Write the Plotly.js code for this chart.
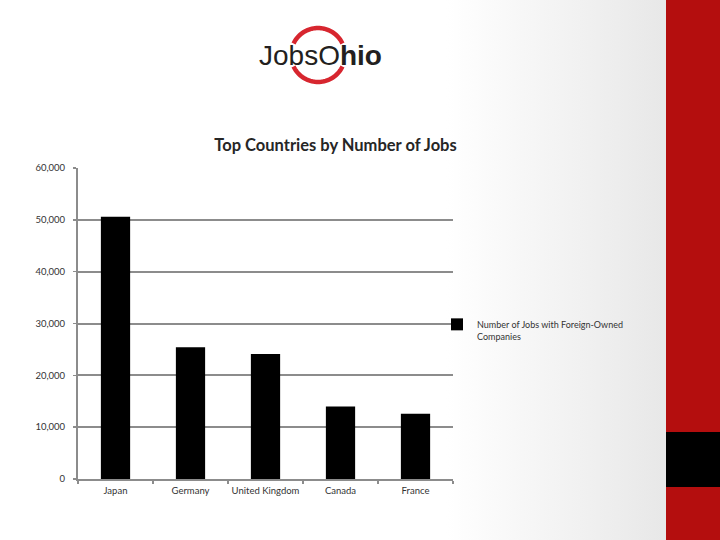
<!DOCTYPE html>
<html>
<head>
<meta charset="utf-8">
<script src="https://cdn.plot.ly/plotly-3.0.1.min.js"></script>
<style>
  html, body { margin:0; padding:0; width:720px; height:540px; overflow:hidden;
    background: linear-gradient(to right, #ffffff 0%, #ffffff 62%, #f3f3f3 78%, #e8e8e8 92%); }
  #chart { width:720px; height:540px; }
</style>
</head>
<body>
<div id="chart"></div>
<script>
// ---- data ----
const countries = ["Japan", "Germany", "United Kingdom", "Canada", "France"];
const jobs = [50600, 25400, 24100, 14000, 12600];
const seriesName = "Number of Jobs with Foreign-Owned<br>Companies";
const yTickVals = [0, 10000, 20000, 30000, 40000, 50000, 60000];
const yTickText = ["0", "10,000", "20,000", "30,000", "40,000", "50,000", "60,000"];
const chartTitle = "Top Countries by Number of Jobs";

// ---- layout helpers (pixel -> paper) ----
const W = 720, H = 540, ML = 78, MR = 267, MT = 168, MB = 61;
const PW = W - ML - MR, PH = H - MT - MB;
const px = x => (x - ML) / PW;
const py = y => (H - MB - y) / PH;

// logo ring arcs (decoration)
function arc(a0, a1, r) {
  let d = "";
  const n = 40;
  for (let i = 0; i <= n; i++) {
    const a = (a0 + (a1 - a0) * i / n) * Math.PI / 180;
    const x = (r * Math.cos(a)).toFixed(2), y = (r * Math.sin(a)).toFixed(2);
    d += (i === 0 ? "M" : "L") + x + "," + y;
  }
  return d;
}
const ringR = 27;
const ringShape = path => ({
  type: "path", xref: "paper", yref: "paper",
  xsizemode: "pixel", ysizemode: "pixel",
  xanchor: px(318), yanchor: py(55),
  path: path, line: { color: "#d7262f", width: 4.5 }
});

const trace = {
  type: "bar",
  x: countries,
  y: jobs,
  name: seriesName,
  marker: { color: "#000000", line: { color: "#000000", width: 0 } },
  showlegend: true
};

const layout = {
  width: W, height: H,
  margin: { l: ML, r: MR, t: MT, b: MB, pad: 0 },
  paper_bgcolor: "rgba(0,0,0,0)",
  plot_bgcolor: "rgba(0,0,0,0)",
  font: { family: "Lato, 'Open Sans', sans-serif", color: "#333333" },
  title: {
    text: chartTitle,
    font: { family: "Lato, 'Open Sans', sans-serif", size: 16.5, color: "#262626", weight: "bold" },
    x: 335.5 / W, xanchor: "center",
    y: 1 - 145 / H, yanchor: "middle"
  },
  bargap: 0.61,
  xaxis: {
    type: "category",
    showgrid: false,
    showline: true, linecolor: "#8c8c8c", linewidth: 2,
    ticks: "outside", tickson: "boundaries", ticklen: 3, tickcolor: "#8c8c8c", tickwidth: 1.5,
    tickfont: { size: 9.5, color: "#333333" },
    tickangle: 0,
    ticklabelstandoff: 2,
    zeroline: false
  },
  yaxis: {
    range: [0, 60000],
    tickvals: yTickVals, ticktext: yTickText,
    showgrid: true, gridcolor: "#8c8c8c", gridwidth: 2,
    showline: true, linecolor: "#8c8c8c", linewidth: 2,
    ticks: "outside", ticklen: 3, tickcolor: "#8c8c8c", tickwidth: 1.5,
    tickfont: { size: 9.5, color: "#333333" },
    zeroline: false,
    ticklabelstandoff: 6
  },
  legend: {
    x: px(437), xanchor: "left",
    y: py(312), yanchor: "top",
    bgcolor: "rgba(0,0,0,0)",
    font: { size: 9, color: "#333333" },
    itemwidth: 30,
    valign: "top"
  },
  shapes: [
    { type: "rect", xref: "paper", yref: "paper", x0: px(666), x1: px(722), y0: py(-2), y1: py(542),
      fillcolor: "#b40e0e", line: { width: 0 }, layer: "above" },
    { type: "rect", xref: "paper", yref: "paper", x0: px(666), x1: px(722), y0: py(487), y1: py(432),
      fillcolor: "#000000", line: { width: 0 }, layer: "above" },
    ringShape(arc(25, 155, ringR)),
    ringShape(arc(205, 335, ringR))
  ],
  annotations: [
    { xref: "paper", yref: "paper", x: px(320.5), y: py(55), xanchor: "center", yanchor: "middle",
      text: "Jobs<span style=\"font-weight:300\">O</span><b>hio</b>", showarrow: false,
      font: { family: "'Liberation Sans', Arial, sans-serif", size: 28, color: "#231f20" } }
  ]
};

Plotly.newPlot("chart", [trace], layout, { displayModeBar: false, staticPlot: true });
</script>
</body>
</html>
